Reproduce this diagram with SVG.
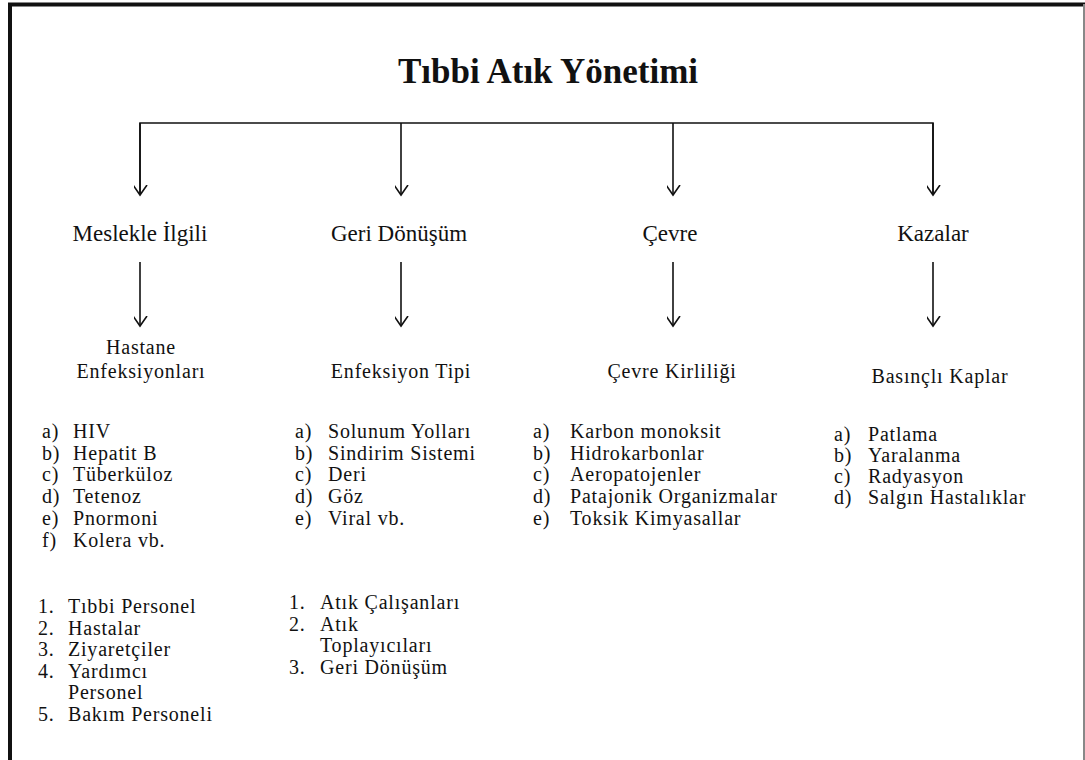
<svg xmlns="http://www.w3.org/2000/svg" width="1085" height="760" viewBox="0 0 1085 760">
<defs>
<marker id="arr" markerUnits="userSpaceOnUse" markerWidth="20" markerHeight="20" viewBox="-10 -14 20 20" refX="0" refY="0" orient="auto">
<path d="M-10,-7 L0,0 L-10,7" fill="none" stroke="#111" stroke-width="1.6"/>
</marker>
<style>
.t{font-family:"Liberation Serif","Times New Roman",serif;fill:#111}
.title{font-size:35px;font-weight:bold}
.h1{font-size:23px;text-anchor:middle}
.h2{font-size:20px;letter-spacing:0.8px;text-anchor:middle}
.li{font-size:20px;letter-spacing:0.8px}
.c{fill:none;stroke:#111;stroke-width:1.6}
</style>
</defs>
<rect x="0" y="0" width="1085" height="760" fill="#fff"/>
<g id="frame">
<path d="M10,760 V4.5 H1085" fill="none" stroke="#111" stroke-width="4"/>
<line x1="1084" y1="4" x2="1084" y2="760" stroke="#888" stroke-width="2"/>
</g>
<g id="connectors">
<path class="c" d="M140,195 V123 H933 V195"/>
<line class="c" x1="140" y1="123" x2="140" y2="195" marker-end="url(#arr)"/>
<line class="c" x1="401" y1="123" x2="401" y2="195" marker-end="url(#arr)"/>
<line class="c" x1="673" y1="123" x2="673" y2="195" marker-end="url(#arr)"/>
<line class="c" x1="933" y1="123" x2="933" y2="195" marker-end="url(#arr)"/>
<line class="c" x1="140" y1="262" x2="140" y2="326" marker-end="url(#arr)"/>
<line class="c" x1="401" y1="262" x2="401" y2="326" marker-end="url(#arr)"/>
<line class="c" x1="673" y1="262" x2="673" y2="326" marker-end="url(#arr)"/>
<line class="c" x1="933" y1="262" x2="933" y2="326" marker-end="url(#arr)"/>
</g>
<g id="root"><text class="t title" x="548" y="83" text-anchor="middle">Tıbbi Atık Yönetimi</text></g>
<g id="n-meslek"><text class="t h1" x="140" y="241">Meslekle İlgili</text></g>
<g id="n-geri"><text class="t h1" x="399" y="241">Geri Dönüşüm</text></g>
<g id="n-cevre"><text class="t h1" x="670" y="241">Çevre</text></g>
<g id="n-kaza"><text class="t h1" x="933" y="241">Kazalar</text></g>

<g id="n-hastane">
<text class="t h2" x="141" y="354">Hastane</text>
<text class="t h2" x="141" y="378">Enfeksiyonları</text>
<g class="t li">
<text x="42" y="438">a)</text><text x="73" y="438">HIV</text>
<text x="42" y="459.7">b)</text><text x="73" y="459.7">Hepatit B</text>
<text x="42" y="481.4">c)</text><text x="73" y="481.4">Tüberküloz</text>
<text x="42" y="503.1">d)</text><text x="73" y="503.1">Tetenoz</text>
<text x="42" y="524.8">e)</text><text x="73" y="524.8">Pnormoni</text>
<text x="42" y="546.5">f)</text><text x="73" y="546.5">Kolera vb.</text>
</g>
</g>

<g id="n-enfeksiyon">
<text class="t h2" x="401" y="378">Enfeksiyon Tipi</text>
<g class="t li">
<text x="295" y="438">a)</text><text x="328" y="438">Solunum Yolları</text>
<text x="295" y="459.7">b)</text><text x="328" y="459.7">Sindirim Sistemi</text>
<text x="295" y="481.4">c)</text><text x="328" y="481.4">Deri</text>
<text x="295" y="503.1">d)</text><text x="328" y="503.1">Göz</text>
<text x="295" y="524.8">e)</text><text x="328" y="524.8">Viral vb.</text>
</g>
</g>

<g id="n-kirlilik">
<text class="t h2" x="672" y="378">Çevre Kirliliği</text>
<g class="t li">
<text x="533" y="438">a)</text><text x="570" y="438">Karbon monoksit</text>
<text x="533" y="459.7">b)</text><text x="570" y="459.7">Hidrokarbonlar</text>
<text x="533" y="481.4">c)</text><text x="570" y="481.4">Aeropatojenler</text>
<text x="533" y="503.1">d)</text><text x="570" y="503.1">Patajonik Organizmalar</text>
<text x="533" y="524.8">e)</text><text x="570" y="524.8">Toksik Kimyasallar</text>
</g>
</g>

<g id="n-basincli">
<text class="t h2" x="940" y="383">Basınçlı Kaplar</text>
<g class="t li">
<text x="834" y="441">a)</text><text x="868" y="441">Patlama</text>
<text x="834" y="462">b)</text><text x="868" y="462">Yaralanma</text>
<text x="834" y="483">c)</text><text x="868" y="483">Radyasyon</text>
<text x="834" y="504">d)</text><text x="868" y="504">Salgın Hastalıklar</text>
</g>
</g>

<g id="n-kisiler1">
<g class="t li">
<text x="38" y="613">1.</text><text x="68" y="613">Tıbbi Personel</text>
<text x="38" y="634.5">2.</text><text x="68" y="634.5">Hastalar</text>
<text x="38" y="656">3.</text><text x="68" y="656">Ziyaretçiler</text>
<text x="38" y="677.5">4.</text><text x="68" y="677.5">Yardımcı</text>
<text x="68" y="699">Personel</text>
<text x="38" y="720.5">5.</text><text x="68" y="720.5">Bakım Personeli</text>
</g>
</g>

<g id="n-kisiler2">
<g class="t li">
<text x="289" y="609">1.</text><text x="320" y="609">Atık Çalışanları</text>
<text x="289" y="630.5">2.</text><text x="320" y="630.5">Atık</text>
<text x="320" y="652">Toplayıcıları</text>
<text x="289" y="673.5">3.</text><text x="320" y="673.5">Geri Dönüşüm</text>
</g>
</g>
</svg>
